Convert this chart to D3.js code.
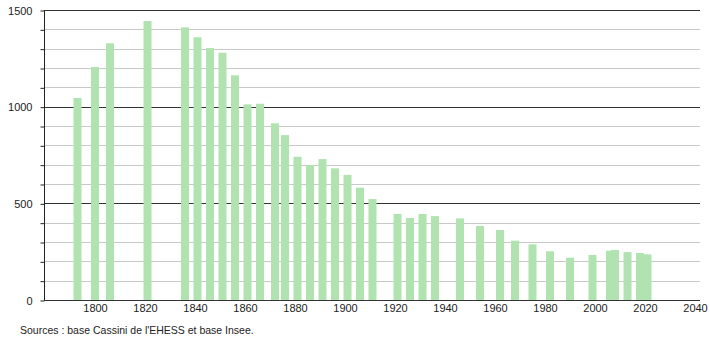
<!DOCTYPE html>
<html>
<head>
<meta charset="utf-8">
<title>population</title>
<script src="https://cdn.jsdelivr.net/npm/d3@7"></script>
<style>
    body { margin: 0; background: #fff; }
    text { font-family: "Liberation Sans", Arial, sans-serif; fill: #222; }
</style>
</head>
<body>
<script>
    // census years and inhabitants
    var years = [1793, 1800, 1806, 1821, 1836, 1841, 1846, 1851, 1856, 1861, 1866, 1872, 1876,
        1881, 1886, 1891, 1896, 1901, 1906, 1911, 1921, 1926, 1931, 1936, 1946, 1954, 1962,
        1968, 1975, 1982, 1990, 1999, 2006, 2008, 2013, 2018, 2021];
    var population = [1045, 1205, 1328, 1443, 1410, 1359, 1303, 1279, 1162, 1012, 1015, 914, 853,
        741, 698, 729, 681, 647, 581, 522, 445, 424, 445, 434, 422, 383, 362,
        307, 288, 252, 219, 233, 255, 259, 248, 243, 236];
    var xTicks = [1800, 1820, 1840, 1860, 1880, 1900, 1920, 1940, 1960, 1980, 2000, 2020, 2040];
    var yTicks = d3.range(0, 1501, 100);
    var source = "Sources : base Cassini de l'EHESS et base Insee.";

    var width = 710, height = 340;
    var mLeft = 44, mRight = 700, mTop = 10, mBottom = 300;
    var barW = 8;

    var svg = d3.select('body').append('svg')
        .attr('width', width)
        .attr('height', height);

    var x = d3.scaleLinear()
        .domain([1779.6, 2042])
        .range([mLeft, mRight]);

    var y = d3.scaleLinear()
        .domain([0, 1500])
        .range([mBottom, mTop]);

    // grid
    svg.append('g')
        .selectAll('line')
        .data(yTicks).enter()
        .append('line')
        .attr('x1', mLeft)
        .attr('x2', mRight)
        .attr('y1', function(d) { return Math.round(y(d)) + 0.5; })
        .attr('y2', function(d) { return Math.round(y(d)) + 0.5; })
        .style('stroke', function(d) { return d % 500 === 0 ? '#333' : '#c8c8c8'; })
        .style('stroke-width', 1);

    // bars
    svg.append('g')
        .selectAll('rect')
        .data(years).enter()
        .append('rect')
        .attr('x', function(d) { return x(d) - barW / 2; })
        .attr('y', function(d, i) { return y(population[i]); })
        .attr('width', barW)
        .attr('height', function(d, i) { return y(0) - y(population[i]); })
        .style('fill', '#b0e3b0');

    // y axis
    var yax = d3.axisLeft(y)
        .tickValues(yTicks)
        .tickSize(4)
        .tickPadding(8)
        .tickFormat(function(d) { return d % 500 === 0 ? d : ''; });

    var gy = svg.append('g')
        .attr('transform', 'translate(' + (mLeft + 0.5) + ',0.5)')
        .call(yax);
    gy.select('.domain').remove();
    gy.selectAll('line').style('stroke', '#222');
    gy.selectAll('text').style('font-size', '11px').style('fill', '#222');
    gy.append('line')
        .attr('y1', mTop)
        .attr('y2', mBottom)
        .style('stroke', '#222');

    // x axis
    var xax = d3.axisBottom(x)
        .tickValues(xTicks)
        .tickSize(0)
        .tickPadding(4)
        .tickFormat(d3.format('d'));

    var gx = svg.append('g')
        .attr('transform', 'translate(0,' + (mBottom + 0.5) + ')')
        .call(xax);
    gx.select('.domain').remove();
    gx.selectAll('text').style('font-size', '11px').style('fill', '#222');

    svg.append('text')
        .attr('x', 20)
        .attr('y', 334)
        .style('font-size', '10.5px')
        .text(source);
</script>
</body>
</html>
